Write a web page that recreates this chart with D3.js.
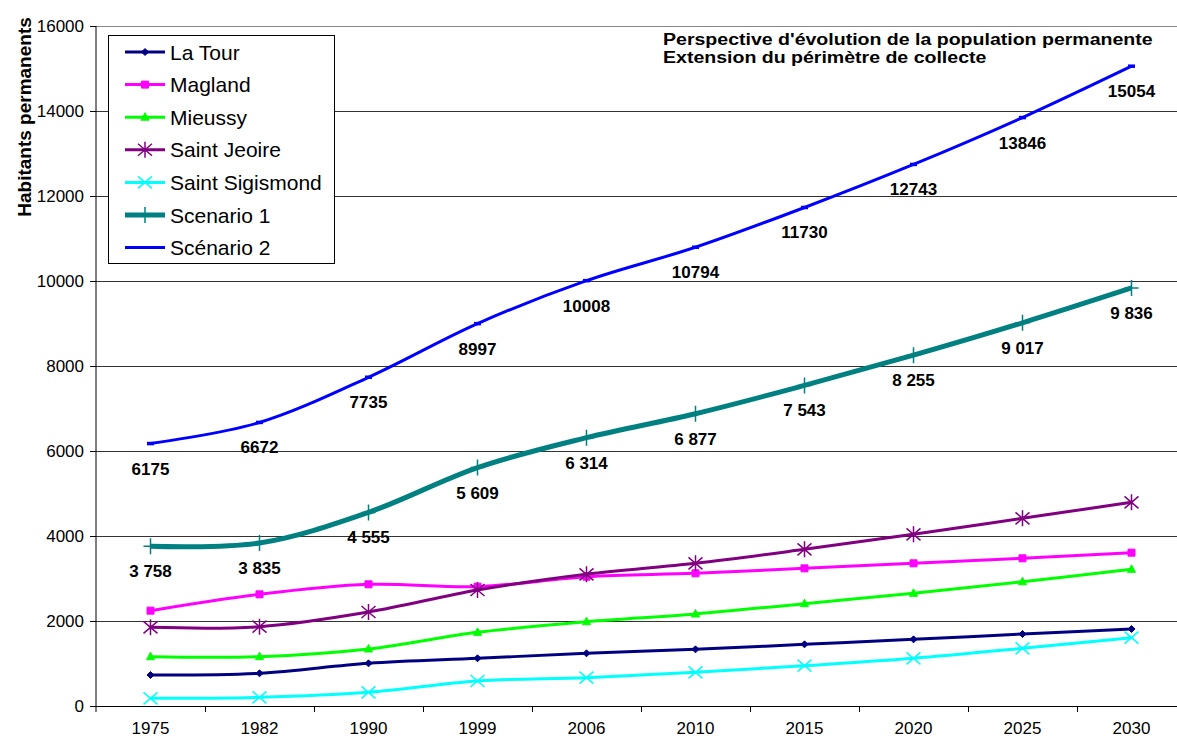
<!DOCTYPE html>
<html>
<head>
<meta charset="utf-8">
<script src="https://cdn.jsdelivr.net/npm/d3@7"></script>
<style>
  body { margin: 0; background: #fff; }
  svg { display: block; font-family: "Liberation Sans", Arial, sans-serif; }
</style>
</head>
<body>
<svg id="chart" width="1177" height="738"></svg>
<script>
// Data
var years = ['1975', '1982', '1990', '1999', '2006', '2010', '2015', '2020', '2025', '2030'];
var laTour = [729, 769, 1004, 1122, 1239, 1333, 1451, 1568, 1694, 1812];
var magland = [2243, 2627, 2863, 2808, 3043, 3122, 3239, 3357, 3475, 3608];
var mieussy = [1161, 1161, 1341, 1733, 1984, 2165, 2408, 2651, 2925, 3216];
var saintJeoire = [1851, 1867, 2212, 2729, 3098, 3357, 3686, 4039, 4416, 4792];
var saintSigismond = [180, 204, 322, 588, 667, 792, 949, 1122, 1357, 1608];
var scenario1 = [3758, 3835, 4555, 5609, 6314, 6877, 7543, 8255, 9017, 9836];
var scenario2 = [6175, 6672, 7735, 8997, 10008, 10794, 11730, 12743, 13846, 15054];
var yTicks = [0, 2000, 4000, 6000, 8000, 10000, 12000, 14000, 16000];
var titleLines = ["Perspective d'évolution de la population permanente", "Extension du périmètre de collecte"];

var series = [
    { name: 'La Tour', values: laTour, color: '#000080', width: 3, marker: 'diamond' },
    { name: 'Magland', values: magland, color: '#ff00ff', width: 3, marker: 'square' },
    { name: 'Mieussy', values: mieussy, color: '#00ff00', width: 3, marker: 'triangle' },
    { name: 'Saint Jeoire', values: saintJeoire, color: '#800080', width: 3, marker: 'asterisk' },
    { name: 'Saint Sigismond', values: saintSigismond, color: '#00ffff', width: 3, marker: 'x' },
    { name: 'Scenario 1', values: scenario1, color: '#008080', width: 5, marker: 'plus', labelFmt: 'space' },
    { name: 'Scénario 2', values: scenario2, color: '#0000ff', width: 3, marker: 'dash', labelFmt: 'plain' }
];

var svg = d3.select('#chart');
var plotLeft = 96, plotRight = 1186, plotTop = 26, plotBottom = 706;

var x = d3.scaleBand().domain(years).range([plotLeft, plotRight]);
var y = d3.scaleLinear().domain([0, 16000]).range([plotBottom, plotTop]);

// Gridlines
svg.append('g').selectAll('line')
    .data(yTicks.filter(function(d) { return d > 0; }))
    .enter().append('line')
        .attr('x1', plotLeft).attr('x2', 1177)
        .attr('y1', function(d) { return y(d); })
        .attr('y2', function(d) { return y(d); })
        .attr('stroke', function(d) { return d === 16000 ? '#888' : '#333'; })
        .attr('stroke-width', 1)
        .attr('shape-rendering', 'crispEdges');

// Axes
var yAxis = d3.axisLeft(y).tickValues(yTicks).tickSize(6).tickPadding(6).tickFormat(d3.format('d'));
var gy = svg.append('g').attr('transform', 'translate(' + plotLeft + ',0)').call(yAxis);
gy.select('.domain').attr('stroke', '#000').attr('d', 'M0,' + plotTop + 'V' + (plotBottom + 6));
gy.selectAll('.tick line').attr('stroke', '#000');
gy.selectAll('.tick text').attr('font-size', 17).attr('fill', '#000')
    .attr('font-family', '"Liberation Sans", Arial, sans-serif');

var gx = svg.append('g').attr('transform', 'translate(0,' + plotBottom + ')');
gx.append('line').attr('x1', plotLeft).attr('x2', 1177).attr('y1', 0).attr('y2', 0)
    .attr('stroke', '#000').attr('shape-rendering', 'crispEdges');
gx.selectAll('.xtick')
    .data(years.slice(1))
    .enter().append('line')
        .attr('x1', function(d) { return x(d); })
        .attr('x2', function(d) { return x(d); })
        .attr('y1', 0).attr('y2', 6)
        .attr('stroke', '#000').attr('shape-rendering', 'crispEdges');
gx.selectAll('.xlabel')
    .data(years)
    .enter().append('text')
        .attr('x', function(d) { return x(d) + x.bandwidth() / 2; })
        .attr('y', 28)
        .attr('text-anchor', 'middle')
        .attr('font-size', 17)
        .text(function(d) { return d; });

// Y axis title
svg.append('text')
    .attr('transform', 'translate(31,117) rotate(-90)')
    .attr('text-anchor', 'middle')
    .attr('font-size', 19)
    .attr('font-weight', 'bold')
    .text('Habitants permanents');

// Markers
function markerPath(type) {
    switch (type) {
        case 'diamond': return 'M0,-3.5L3.5,0L0,3.5L-3.5,0Z';
        case 'square': return 'M-3.5,-3.5H3.5V3.5H-3.5Z';
        case 'triangle': return 'M0,-4.5L4,3L-4,3Z';
        case 'asterisk': return 'M0,-8V8M-7,-6L7,6M-7,6L7,-6';
        case 'x': return 'M-7,-6L7,6M-7,6L7,-6';
        case 'plus': return 'M0,-8V8M-7,0H7';
        case 'dash': return 'M-3.5,0H3.5';
    }
}
function isFilled(type) {
    return type === 'diamond' || type === 'square' || type === 'triangle';
}

var line = d3.line()
    .x(function(d, i) { return x(years[i]) + x.bandwidth() / 2; })
    .y(function(d) { return y(d); })
    .curve(d3.curveCatmullRom.alpha(0));

var spaceFmt = d3.formatLocale({ decimal: ',', thousands: ' ', grouping: [3], currency: ['', ''] }).format(',d');

var layer = svg.selectAll('.serie')
    .data(series)
    .enter().append('g')
        .attr('class', 'serie');

layer.append('path')
    .attr('fill', 'none')
    .attr('stroke', function(d) { return d.color; })
    .attr('stroke-width', function(d) { return d.width; })
    .attr('stroke-linejoin', 'round')
    .attr('d', function(d) { return line(d.values); });

layer.each(function(s) {
    d3.select(this).selectAll('.mk')
        .data(s.values)
        .enter().append('path')
            .attr('transform', function(d, i) {
                return 'translate(' + (x(years[i]) + x.bandwidth() / 2) + ',' + y(d) + ')';
            })
            .attr('d', markerPath(s.marker))
            .attr('fill', isFilled(s.marker) ? s.color : 'none')
            .attr('stroke', s.color)
            .attr('stroke-width', s.marker === 'dash' ? 3.5 : (isFilled(s.marker) ? 1 : 1.5));

    if (s.labelFmt) {
        d3.select(this).selectAll('.lbl')
            .data(s.values)
            .enter().append('text')
                .attr('x', function(d, i) { return x(years[i]) + x.bandwidth() / 2; })
                .attr('y', function(d) { return y(d) + 31; })
                .attr('text-anchor', 'middle')
                .attr('font-size', 17)
                .attr('font-weight', 'bold')
                .text(function(d) { return s.labelFmt === 'space' ? spaceFmt(d) : d; });
    }
});

// Title (glyphs a bit wide in the original, hence the horizontal stretch)
svg.append('g').selectAll('text')
    .data(titleLines)
    .enter().append('text')
        .attr('transform', function(d, i) { return 'translate(663,' + (45 + i * 18) + ') scale(1.15,1)'; })
        .attr('font-size', 17)
        .attr('font-weight', 'bold')
        .text(function(d) { return d; });

// Legend
var legend = svg.append('g');
legend.append('rect')
    .attr('x', 108.5).attr('y', 35.5).attr('width', 226).attr('height', 228)
    .attr('fill', '#fff').attr('stroke', '#000').attr('stroke-width', 1);

var item = legend.selectAll('.item')
    .data(series)
    .enter().append('g')
        .attr('transform', function(d, i) { return 'translate(0,' + (52 + i * 32.6) + ')'; });

item.append('line')
    .attr('x1', 125).attr('x2', 165).attr('y1', 0).attr('y2', 0)
    .attr('stroke', function(d) { return d.color; })
    .attr('stroke-width', function(d) { return d.width; });
item.append('path')
    .attr('transform', 'translate(145,0)')
    .attr('d', function(d) { return markerPath(d.marker); })
    .attr('fill', function(d) { return isFilled(d.marker) ? d.color : 'none'; })
    .attr('stroke', function(d) { return d.color; })
    .attr('stroke-width', function(d) { return isFilled(d.marker) ? 1 : 1.5; });
item.append('text')
    .attr('x', 170).attr('y', 7.5)
    .attr('font-size', 21)
    .text(function(d) { return d.name; });
</script>
</body>
</html>
